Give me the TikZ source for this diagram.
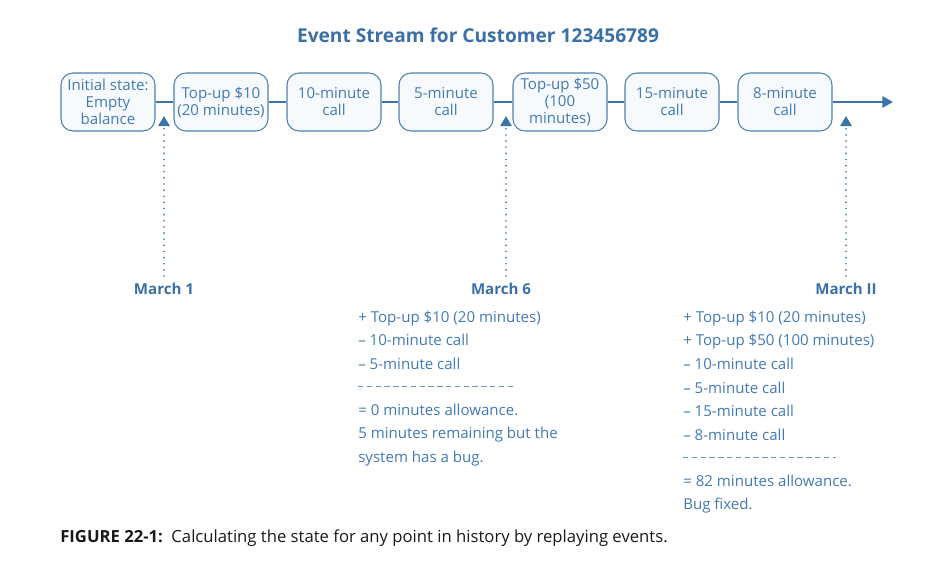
\documentclass[tikz,border=0pt]{standalone}
\usepackage{fontspec}
\setmainfont{Open Sans}
\usetikzlibrary{arrows.meta}
\definecolor{evtitle}{RGB}{59,112,166}
\definecolor{evtext}{RGB}{66,122,178}
\definecolor{boxline}{RGB}{78,128,176}
\definecolor{boxfill}{RGB}{247,250,252}
\definecolor{streamline}{RGB}{60,116,170}
\definecolor{captext}{RGB}{25,25,25}

\begin{document}
\begin{tikzpicture}[x=0.75pt,y=0.75pt,yscale=-1,xscale=1,
  event/.style={draw=boxline, fill=boxfill, line width=0.8pt, rounded corners=9pt,
    minimum width=70.5pt, minimum height=43.5pt, inner sep=1pt, align=center,
    text=evtext, font=\fontsize{11.3}{12.75}\selectfont},
  stream/.style={draw=streamline, line width=1.5pt},
  tick/.style={draw=streamline, line width=1.4pt, line cap=round,
    dash pattern=on 0pt off 4.6pt,
    -{Triangle[length=7.5pt,width=8.5pt]}},
  daylabel/.style={text=evtitle, font=\fontsize{11.3}{12.75}\selectfont\bfseries, inner sep=1pt},
  tally/.style={anchor=north west, align=left, inner sep=0pt, text=evtext,
    font=\fontsize{11.3}{17.7}\selectfont},
  rule/.style={draw=evtext!80, line width=0.6pt, dash pattern=on 4pt off 2.6pt}]
\useasboundingbox (0,0) rectangle (952,568);

% Title
\node (title) at (478,35) [text=evtitle, font=\fontsize{14.35}{16}\selectfont\bfseries] {Event Stream for Customer 123456789};

% Events
\node[event] (init) at (108,102) {Initial state:\\Empty\\balance};
\node[event] (top10) at (221,102) {Top-up \$10\\(20 minutes)};
\node[event] (call10) at (334,102) {10-minute\\call};
\node[event] (call5) at (446,102) {5-minute\\call};
\node[event] (top50) at (560,102) {Top-up \$50\\(100\\minutes)};
\node[event] (call15) at (672,102) {15-minute\\call};
\node[event] (call8) at (785,102) {8-minute\\call};
\coordinate (end) at (893,102);

% Stream line
\draw[stream] (init) -- (top10);
\draw[stream] (top10) -- (call10);
\draw[stream] (call10) -- (call5);
\draw[stream] (call5) -- (top50);
\draw[stream] (top50) -- (call15);
\draw[stream] (call15) -- (call8);
\draw[stream,-{Triangle[length=8pt,width=8.5pt]}] (call8) -- (end);

% Points in time
\node[daylabel] (mar1) at (164,289) {March 1};
\node[daylabel] (mar6) at (501,289) {March 6};
\node[daylabel] (mar11) at (846,289) {March II};
\coordinate (at1) at (164,116);
\coordinate (at6) at (506,116);
\coordinate (at11) at (846,116);
\coordinate (foot1) at (164,276);
\coordinate (foot6) at (506,276);
\coordinate (foot11) at (846,276);
\draw[tick] (foot1) -- (at1);
\draw[tick] (foot6) -- (at6);
\draw[tick] (foot11) -- (at11);

% Replay on March 6
\node[tally] (sum6) at (358,310.5) {+ Top-up \$10 (20 minutes)\\– 10-minute call\\– 5-minute call};
\draw[rule] (358,386) -- (513,386);
\node[tally] (res6) at (358,403.5) {= 0 minutes allowance.\\5 minutes remaining but the\\system has a bug.};

% Replay on March 11
\node[tally] (sum11) at (683,310.5) {+ Top-up \$10 (20 minutes)\\+ Top-up \$50 (100 minutes)\\– 10-minute call\\– 5-minute call\\– 15-minute call\\– 8-minute call};
\draw[rule] (683,457) -- (836,457);
\node[tally] (res11) at (683,474.5) {= 82 minutes allowance.\\Bug fixed.};

% Caption
\node (caption) at (60,538) [anchor=west, inner sep=0pt, text=captext, font=\fontsize{12.5}{14}\selectfont] {\textbf{FIGURE 22-1:}\, Calculating the state for any point in history by replaying events.};
\end{tikzpicture}
\end{document}
